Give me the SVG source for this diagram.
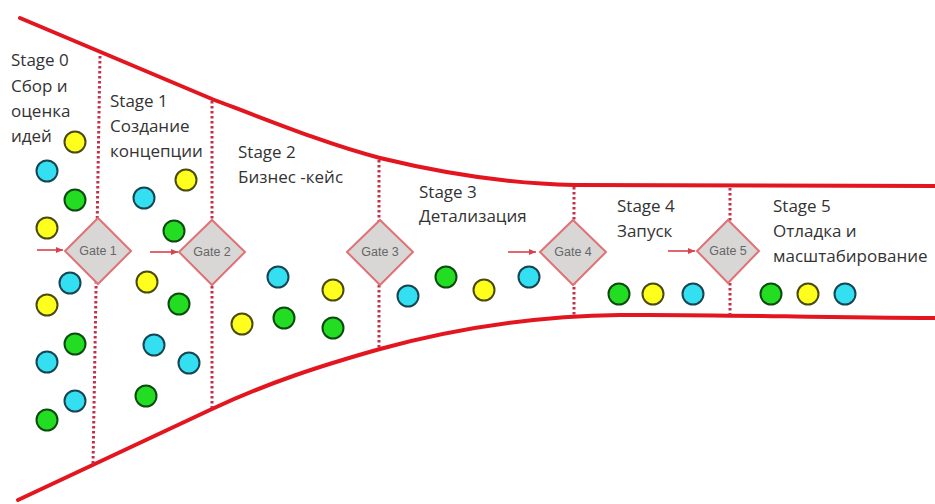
<svg xmlns="http://www.w3.org/2000/svg" width="935" height="504" viewBox="0 0 935 504">
<style>
.funnel{fill:none;stroke:#e3151f;stroke-width:4;stroke-linecap:round}
.div{fill:none;stroke:#c2304a;stroke-width:3;stroke-dasharray:2.5 2.5}
.gate{fill:#d9d6d6;stroke:#e07276;stroke-width:2}
.gt{font-family:"Liberation Sans",Arial,sans-serif;font-size:12.5px;fill:#666666;text-anchor:middle}
.lbl{font-family:"Open Sans","Liberation Sans",sans-serif;font-size:17px;fill:#333333}
.arr{stroke:#d9424a;stroke-width:1.6;fill:none}
.c{stroke-width:2}
.y{fill:#ffff1e;stroke:#4a4a10}
.g{fill:#22dd22;stroke:#0d4a10}
.b{fill:#33dff0;stroke:#174550}
</style>
<defs>
<marker id="ah" markerWidth="8" markerHeight="8" refX="7" refY="4" orient="auto" markerUnits="userSpaceOnUse">
<path d="M0,1 L7,4 L0,7 Z" fill="#d9424a"/>
</marker>
</defs>
<rect width="935" height="504" fill="#ffffff"/>
<g id="connectors">
<path class="funnel" d="M20 18 L212 99 C280 125 330 145 380 158 C450 175 520 184 574 185 L935 186"/>
<path class="funnel" d="M18 500 L212 409 C270 382 320 366 380 349 C450 330 530 316 620 315 C720 314 820 318 935 318"/>
<line class="div" x1="100" y1="56" x2="93" y2="465"/>
<line class="div" x1="212" y1="101" x2="212" y2="408"/>
<line class="div" x1="379" y1="160" x2="379" y2="348"/>
<line class="div" x1="574" y1="187" x2="574" y2="316"/>
<line class="div" x1="730" y1="188" x2="730" y2="315"/>
<line class="arr" x1="37" y1="250" x2="63" y2="250" marker-end="url(#ah)"/>
<line class="arr" x1="150" y1="252" x2="178" y2="252" marker-end="url(#ah)"/>
<line class="arr" x1="508" y1="252" x2="536" y2="252" marker-end="url(#ah)"/>
<line class="arr" x1="668" y1="251" x2="695" y2="251" marker-end="url(#ah)"/>
</g>
<g id="gate1"><path class="gate" d="M98 218 L131 251 L98 284 L65 251 Z"/><text class="gt" x="98" y="255">Gate 1</text></g>
<g id="gate2"><path class="gate" d="M212 220 L245 252 L212 285 L179 252 Z"/><text class="gt" x="212" y="256">Gate 2</text></g>
<g id="gate3"><path class="gate" d="M380 220 L413 252 L380 285 L347 252 Z"/><text class="gt" x="380" y="256">Gate 3</text></g>
<g id="gate4"><path class="gate" d="M573 220 L606 252 L573 285 L540 252 Z"/><text class="gt" x="573" y="256">Gate 4</text></g>
<g id="gate5"><path class="gate" d="M728 220 L759 251 L728 283 L697 251 Z"/><text class="gt" x="728" y="255">Gate 5</text></g>
<g id="stage0">
<text class="lbl" x="11" y="66">Stage 0</text>
<text class="lbl" x="11" y="92">Сбор и</text>
<text class="lbl" x="11" y="117">оценка</text>
<text class="lbl" x="11" y="142">идей</text>
</g>
<g id="stage1">
<text class="lbl" x="110" y="107">Stage 1</text>
<text class="lbl" x="110" y="132">Создание</text>
<text class="lbl" x="110" y="157">концепции</text>
</g>
<g id="stage2">
<text class="lbl" x="238" y="158">Stage 2</text>
<text class="lbl" x="238" y="183">Бизнес -кейс</text>
</g>
<g id="stage3">
<text class="lbl" x="419" y="198">Stage 3</text>
<text class="lbl" x="419" y="222">Детализация</text>
</g>
<g id="stage4">
<text class="lbl" x="617" y="212">Stage 4</text>
<text class="lbl" x="617" y="237">Запуск</text>
</g>
<g id="stage5">
<text class="lbl" x="773" y="212">Stage 5</text>
<text class="lbl" x="773" y="237">Отладка и</text>
<text class="lbl" x="773" y="262">масштабирование</text>
</g>
<g id="ideas">
<circle class="c y" cx="75" cy="142" r="10.5"/>
<circle class="c b" cx="47" cy="171" r="10.5"/>
<circle class="c g" cx="75" cy="200" r="10.5"/>
<circle class="c y" cx="47" cy="228" r="10.5"/>
<circle class="c b" cx="70" cy="283" r="10.5"/>
<circle class="c y" cx="47" cy="305" r="10.5"/>
<circle class="c g" cx="75" cy="344" r="10.5"/>
<circle class="c b" cx="47" cy="362" r="10.5"/>
<circle class="c b" cx="75" cy="401" r="10.5"/>
<circle class="c g" cx="47" cy="420" r="10.5"/>
<circle class="c y" cx="186" cy="180" r="10.5"/>
<circle class="c b" cx="144" cy="198" r="10.5"/>
<circle class="c g" cx="174" cy="231" r="10.5"/>
<circle class="c y" cx="147" cy="282" r="10.5"/>
<circle class="c g" cx="179" cy="304" r="10.5"/>
<circle class="c b" cx="154" cy="345" r="10.5"/>
<circle class="c b" cx="189" cy="363" r="10.5"/>
<circle class="c g" cx="146" cy="396" r="10.5"/>
<circle class="c b" cx="278" cy="277" r="10.5"/>
<circle class="c y" cx="333" cy="290" r="10.5"/>
<circle class="c y" cx="242" cy="324" r="10.5"/>
<circle class="c g" cx="284" cy="318" r="10.5"/>
<circle class="c g" cx="333" cy="328" r="10.5"/>
<circle class="c b" cx="408" cy="296" r="10.5"/>
<circle class="c g" cx="446" cy="277" r="10.5"/>
<circle class="c y" cx="484" cy="290" r="10.5"/>
<circle class="c b" cx="529" cy="277" r="10.5"/>
<circle class="c g" cx="619" cy="294" r="10.5"/>
<circle class="c y" cx="653" cy="294" r="10.5"/>
<circle class="c b" cx="693" cy="294" r="10.5"/>
<circle class="c g" cx="771" cy="294" r="10.5"/>
<circle class="c y" cx="808" cy="294" r="10.5"/>
<circle class="c b" cx="845" cy="294" r="10.5"/>
</g>
</svg>
